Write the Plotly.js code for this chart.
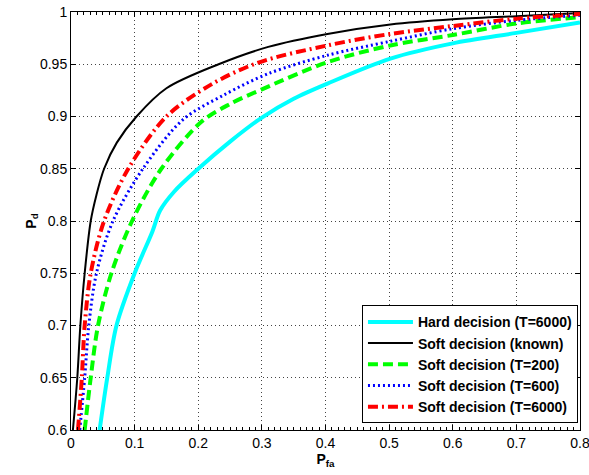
<!DOCTYPE html>
<html>
<head>
<meta charset="utf-8">
<script src="https://cdn.plot.ly/plotly-3.0.1.min.js"></script>
<style>html,body{margin:0;padding:0;background:#fff;}#chart{width:589px;height:475px;}</style>
</head>
<body>
<div id="chart"></div>
<script>
// Series names
var seriesNames = ["Hard decision (T=6000)", "Soft decision (known)", "Soft decision (T=200)", "Soft decision (T=600)", "Soft decision (T=6000)"];

// Tick labels
var xTickVals = [0, 0.1, 0.2, 0.3, 0.4, 0.5, 0.6, 0.7, 0.8];
var xTickText = ["0", "0.1", "0.2", "0.3", "0.4", "0.5", "0.6", "0.7", "0.8"];
var yTickVals = [0.6, 0.65, 0.7, 0.75, 0.8, 0.85, 0.9, 0.95, 1];
var yTickText = ["0.6", "0.65", "0.7", "0.75", "0.8", "0.85", "0.9", "0.95", "1"];

// Hard decision (T=6000)
var hardX = [0.045, 0.057, 0.0715, 0.100, 0.128, 0.140, 0.162, 0.200, 0.250, 0.300, 0.350, 0.403, 0.502, 0.600, 0.700, 0.800];
var hardY = [0.600, 0.650, 0.700, 0.750, 0.790, 0.810, 0.828, 0.850, 0.876, 0.899, 0.917, 0.9315, 0.9554, 0.970, 0.980, 0.990];

// Soft decision (known)
var knownX = [0.003, 0.0099, 0.0147, 0.0215, 0.031, 0.040, 0.052, 0.072, 0.103, 0.150, 0.232, 0.310, 0.403, 0.502, 0.600, 0.700, 0.800];
var knownY = [0.600, 0.650, 0.700, 0.750, 0.800, 0.825, 0.850, 0.875, 0.900, 0.927, 0.950, 0.9666, 0.979, 0.988, 0.993, 0.996, 0.999];

// Soft decision (T=200)
var t200X = [0.0215, 0.031, 0.0425, 0.0635, 0.096, 0.142, 0.205, 0.250, 0.300, 0.403, 0.502, 0.600, 0.700, 0.800];
var t200Y = [0.600, 0.650, 0.700, 0.750, 0.800, 0.850, 0.895, 0.912, 0.926, 0.952, 0.968, 0.978, 0.989, 0.995];

// Soft decision (T=600)
var t600X = [0.0137, 0.0215, 0.028, 0.040, 0.066, 0.113, 0.176, 0.240, 0.310, 0.403, 0.502, 0.600, 0.700, 0.800];
var t600Y = [0.600, 0.650, 0.700, 0.750, 0.800, 0.850, 0.897, 0.9205, 0.941, 0.9586, 0.972, 0.984, 0.992, 0.9968];

// Soft decision (T=6000)
var t6000X = [0.011, 0.017, 0.0215, 0.031, 0.052, 0.090, 0.150, 0.220, 0.2945, 0.403, 0.502, 0.600, 0.700, 0.800];
var t6000Y = [0.600, 0.650, 0.700, 0.750, 0.800, 0.850, 0.900, 0.9305, 0.9516, 0.968, 0.979, 0.9866, 0.9936, 0.998];

var sm = 0.9;
var traces = [
  {x: hardX, y: hardY, name: seriesNames[0], mode: 'lines', line: {color: '#00ffff', width: 4, shape: 'spline', smoothing: sm}},
  {x: knownX, y: knownY, name: seriesNames[1], mode: 'lines', line: {color: '#000000', width: 2, shape: 'spline', smoothing: sm}},
  {x: t200X, y: t200Y, name: seriesNames[2], mode: 'lines', line: {color: '#00ff00', width: 4, dash: '10px,5px', shape: 'spline', smoothing: sm}},
  {x: t600X, y: t600Y, name: seriesNames[3], mode: 'lines', line: {color: '#0000ff', width: 3, dash: '2px,3px', shape: 'spline', smoothing: sm}},
  {x: t6000X, y: t6000Y, name: seriesNames[4], mode: 'lines', line: {color: '#ff0000', width: 4, dash: '10px,4px,2px,4px', shape: 'spline', smoothing: sm}}
];

var fontFam = 'Liberation Sans, Arial, sans-serif';
var layout = {
  width: 589, height: 475,
  margin: {l: 71, r: 9, t: 12, b: 45},
  paper_bgcolor: '#ffffff', plot_bgcolor: '#ffffff',
  font: {family: fontFam, size: 14, color: '#000'},
  showlegend: true,
  legend: {
    x: 0.996, y: 0.016, xanchor: 'right', yanchor: 'bottom',
    bgcolor: '#ffffff', bordercolor: '#000', borderwidth: 1,
    font: {family: fontFam, size: 14, color: '#000', weight: 'bold'},
    itemwidth: 45, tracegroupgap: 0
  },
  xaxis: {
    range: [0, 0.8], tickmode: 'array', tickvals: xTickVals, ticktext: xTickText,
    ticklabeloverflow: 'allow',
    showline: true, linecolor: '#000', linewidth: 1, mirror: 'ticks',
    ticks: 'inside', ticklen: 5, tickcolor: '#000',
    showgrid: true, gridcolor: '#444', griddash: '1px,3px', gridwidth: 1,
    zeroline: false,
    minor: {ticks: 'inside', ticklen: 3, dtick: 0.01, tick0: 0, tickcolor: '#000', showgrid: false},
    tickfont: {family: fontFam, size: 14, color: '#000'},
    title: {text: '<b>P<sub>fa</sub></b>', font: {family: fontFam, size: 14, color: '#000'}, standoff: 2}
  },
  yaxis: {
    range: [0.6, 1], tickmode: 'array', tickvals: yTickVals, ticktext: yTickText,
    ticklabeloverflow: 'allow',
    showline: true, linecolor: '#000', linewidth: 1, mirror: 'ticks',
    ticks: 'inside', ticklen: 5, tickcolor: '#000',
    showgrid: true, gridcolor: '#444', griddash: '1px,3px', gridwidth: 1,
    zeroline: false,
    tickfont: {family: fontFam, size: 14, color: '#000'},
    title: {text: '<b>P<sub>d</sub></b>', font: {family: fontFam, size: 14, color: '#000'}, standoff: 0}
  }
};

Plotly.newPlot('chart', traces, layout, {displayModeBar: false, staticPlot: true});
</script>
</body>
</html>
